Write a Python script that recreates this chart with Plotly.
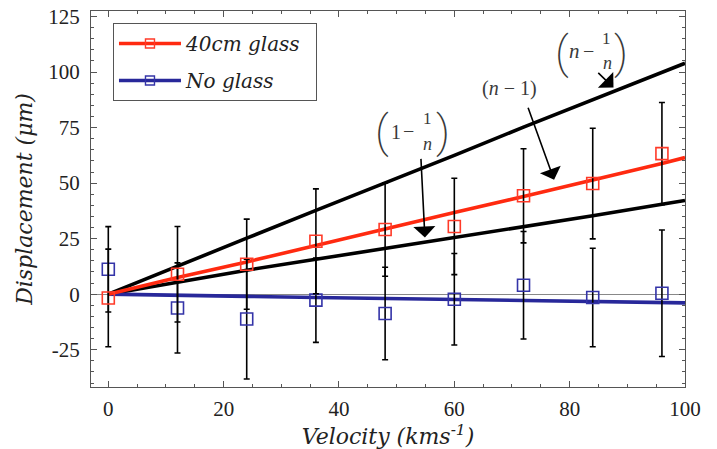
import plotly.graph_objects as go

# ---------------- data ----------------
velocity = [0, 12, 24, 36, 48, 60, 72, 84, 96]
glass_disp = [-1.7, 9.0, 13.5, 23.8, 29.1, 30.5, 44.3, 49.8, 63.3]
glass_err = [22.0, 21.5, 20.3, 23.6, 21.0, 21.7, 21.2, 24.9, 23.0]
noglass_disp = [11.2, -6.2, -11.2, -2.7, -8.7, -2.3, 4.0, -1.5, 0.4]
noglass_err = [19.2, 20.3, 27.0, 19.0, 20.8, 20.6, 24.2, 22.2, 28.5]

line_v = [0, 12, 24, 36, 48, 60, 72, 84, 96, 100]
upper_line = [0, 12.8, 25.2, 37.7, 50.0, 62.5, 75.2, 87.5, 100.0, 104.0]   # (n - 1/n)
lower_line = [0, 5.5, 10.8, 15.7, 20.5, 25.5, 30.2, 35.3, 40.5, 42.2]      # (1 - 1/n)
glass_fit = [0, 7.5, 14.5, 22.0, 29.3, 36.8, 44.0, 51.2, 58.8, 61.5]       # (n - 1)
noglass_fit = [0, -0.3, -1.0, -1.5, -2.0, -2.4, -2.7, -3.2, -3.8, -3.9]

x_tickvals = [0, 20, 40, 60, 80, 100]
x_ticktext = ["0", "20", "40", "60", "80", "100"]
y_tickvals = [-25, 0, 25, 50, 75, 100, 125]
y_ticktext = ["-25", "0", "25", "50", "75", "100", "125"]

series_names = ["40cm glass", "No glass"]

# ---------------- style ----------------
RED = "#ff2a10"
RED_MK = "#ff3a28"
BLUE = "#28289a"
BLUE_MK = "#3434a8"
AXIS = "#555555"
TXT = "#3a3a3a"
SERIF = "Liberation Serif"
ISERIF = "DejaVu Serif"
THIN = "Roboto"

fig = go.Figure()

# theory lines
for yy in (upper_line, lower_line):
    fig.add_trace(go.Scatter(x=line_v, y=yy, mode="lines", showlegend=False,
                             line=dict(color="black", width=3.6), hoverinfo="skip"))
fig.add_trace(go.Scatter(x=line_v, y=noglass_fit, mode="lines", showlegend=False,
                         line=dict(color=BLUE, width=3.6), hoverinfo="skip"))
fig.add_trace(go.Scatter(x=line_v, y=glass_fit, mode="lines", showlegend=False,
                         line=dict(color=RED, width=3.6), hoverinfo="skip"))

# data points with error bars
fig.add_trace(go.Scatter(
    x=velocity, y=noglass_disp, mode="markers", showlegend=False,
    marker=dict(symbol="square-open", size=12, color=BLUE_MK, line=dict(width=1.6)),
    error_y=dict(type="data", array=noglass_err, visible=True, color="black",
                 thickness=1.6, width=3)))
fig.add_trace(go.Scatter(
    x=velocity, y=glass_disp, mode="markers", showlegend=False,
    marker=dict(symbol="square-open", size=12, color=RED_MK, line=dict(width=1.6)),
    error_y=dict(type="data", array=glass_err, visible=True, color="black",
                 thickness=1.6, width=3)))

# legend entries
fig.add_trace(go.Scatter(x=[None], y=[None], mode="lines+markers",
                         name=series_names[0] + "\u2002",
                         legendgroup="a", line=dict(color=RED, width=3.6),
                         marker=dict(symbol="square-open", size=9, color=RED_MK,
                                     line=dict(width=1.4))))
fig.add_trace(go.Scatter(x=[None], y=[None], mode="lines+markers",
                         name=series_names[1] + "\u2002",
                         legendgroup="b", line=dict(color=BLUE, width=3.6),
                         marker=dict(symbol="square-open", size=9, color=BLUE_MK,
                                     line=dict(width=1.4))))

annotations = []
# arrows (head at x,y ; tail at ax,ay in data units)
arrows = [
    (87.6, 93.0, 84.7, 100.3),
    (77.3, 51.5, 72.7, 84.6),
    (54.9, 25.5, 54.2, 61.6),
]
for hx, hy, tx, ty in arrows:
    annotations.append(dict(x=hx, y=hy, ax=tx, ay=ty, xref="x", yref="y", axref="x", ayref="y",
                            text="", showarrow=True, arrowhead=1, arrowsize=2.3,
                            arrowwidth=1.6, arrowcolor="black"))

# label pieces: (text, x, y, size, kind)
label_parts = [
    # (n - 1/n)
    ("(", 78.75, 109.0, 45, "paren"),
    ("n", 80.8, 109.6, 21, "it"),
    ("\u2212", 83.3, 109.3, 20, "rm"),
    ("1", 86.4, 115.0, 17, "rm"),
    ("n", 86.5, 104.3, 18, "it"),
    (")", 88.98, 109.0, 45, "paren"),
    # (n - 1)
    ("(<i>n</i> \u2212 1)", 69.56, 92.7, 20, "rm"),
    # (1 - 1/n)
    ("(", 47.53, 73.3, 45, "paren"),
    ("1", 49.85, 73.2, 20, "rm"),
    ("\u2212", 52.0, 73.4, 20, "rm"),
    ("1", 55.33, 79.3, 17, "rm"),
    ("n", 55.33, 67.8, 18, "it"),
    (")", 58.02, 73.3, 45, "paren"),
]
for t, x, y, s, kind in label_parts:
    if kind == "paren":
        f = dict(family=THIN, size=s, color=TXT, weight=200)
    else:
        f = dict(family=SERIF, size=s, color=TXT, style="italic" if kind == "it" else "normal")
    annotations.append(dict(x=x, y=y, xref="x", yref="y", text=t, showarrow=False,
                            xanchor="center", yanchor="middle", font=f))

fig.update_layout(
    width=717, height=449, autosize=False,
    margin=dict(l=91, r=32, t=11, b=62, autoexpand=False),
    paper_bgcolor="white", plot_bgcolor="white",
    font=dict(family=SERIF, size=21, color="#222"),
    showlegend=True,
    legend=dict(x=0.037, y=0.968, xanchor="left", yanchor="top",
                bgcolor="white", bordercolor=AXIS, borderwidth=1,
                traceorder="grouped", tracegroupgap=8, itemwidth=62,
                font=dict(family=ISERIF, size=20, color="#222", style="italic")),
    annotations=annotations,
)

fig.update_xaxes(
    range=[-3.0, 100], tickmode="array", tickvals=x_tickvals, ticktext=x_ticktext,
    automargin=False,
    showgrid=False, zeroline=False, showline=True, linecolor=AXIS, linewidth=1,
    mirror="allticks", ticks="inside", ticklen=6, tickcolor=AXIS, tickwidth=1,
    minor=dict(tickmode="linear", tick0=0, dtick=5, ticks="inside", ticklen=3,
               tickcolor=AXIS, tickwidth=1),
    tickfont=dict(family=SERIF, size=21, color="#222"),
    ticklabelstandoff=3,
    title=dict(text="Velocity (kms<sup>-1</sup>)", standoff=0,
               font=dict(family=ISERIF, size=22, color="#222", style="italic")),
)
fig.update_yaxes(
    range=[-41.8, 127.5], tickmode="array", tickvals=y_tickvals, ticktext=y_ticktext,
    automargin=False,
    showgrid=False, zeroline=True, zerolinecolor="#888888", zerolinewidth=1,
    showline=True, linecolor=AXIS, linewidth=1,
    mirror="allticks", ticks="inside", ticklen=6, tickcolor=AXIS, tickwidth=1,
    minor=dict(tickmode="linear", tick0=0, dtick=5, ticks="inside", ticklen=3,
               tickcolor=AXIS, tickwidth=1),
    tickfont=dict(family=SERIF, size=21, color="#222"),
    ticklabelstandoff=6,
    title=dict(text="Displacement (\u03bcm)", standoff=9,
               font=dict(family=ISERIF, size=22, color="#222", style="italic")),
)

fig.write_html("out.html", config={"displayModeBar": False},
               post_script="document.body.style.margin='0';")
